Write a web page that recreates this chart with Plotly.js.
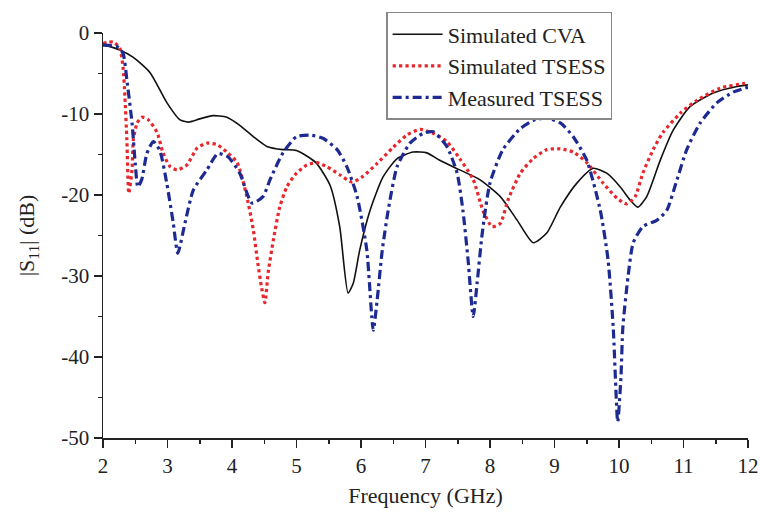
<!DOCTYPE html>
<html>
<head>
<meta charset="utf-8">
<script src="https://cdn.plot.ly/plotly-3.0.1.min.js"></script>
<style>html,body{margin:0;padding:0;background:#fff;}#chart{width:760px;height:515px;}</style>
</head>
<body>
<div id="chart"></div>
<script>
// Frequency (GHz) and |S11| (dB)
const freqCVA = [2, 2.26, 2.47, 2.73, 2.99, 3.19, 3.32, 3.5, 3.7, 3.92, 4.12, 4.33, 4.54, 4.79, 5.0, 5.3, 5.52, 5.67, 5.8, 5.88, 5.98, 6.14, 6.34, 6.56, 6.81, 7.02, 7.22, 7.53, 7.84, 8.16, 8.42, 8.67, 8.88, 9.09, 9.35, 9.6, 9.81, 10.02, 10.17, 10.29, 10.43, 10.64, 10.84, 11.1, 11.46, 11.83, 12];
const s11CVA = [-1.4, -2.1, -3.0, -4.9, -8.6, -10.7, -11.0, -10.6, -10.2, -10.4, -11.4, -12.8, -14.0, -14.4, -14.5, -16.0, -18.8, -23.9, -32.1, -30.9, -26.8, -21.9, -17.8, -15.5, -14.7, -14.8, -15.7, -16.9, -18.1, -20.2, -23.1, -25.9, -24.7, -21.5, -18.5, -16.7, -17.3, -19.0, -20.6, -21.5, -20.2, -15.7, -12.0, -9.1, -7.4, -6.6, -6.4];

const freqSim = [2, 2.16, 2.26, 2.31, 2.34, 2.37, 2.4, 2.45, 2.47, 2.53, 2.6, 2.7, 2.84, 2.93, 3.04, 3.15, 3.3, 3.46, 3.61, 3.77, 3.92, 4.08, 4.23, 4.33, 4.4, 4.46, 4.51, 4.56, 4.64, 4.74, 4.85, 5.0, 5.16, 5.32, 5.47, 5.67, 5.86, 6.03, 6.25, 6.5, 6.71, 6.92, 7.12, 7.33, 7.53, 7.74, 7.89, 8.03, 8.16, 8.28, 8.47, 8.67, 8.88, 9.09, 9.29, 9.5, 9.75, 9.97, 10.12, 10.25, 10.37, 10.53, 10.68, 10.95, 11.21, 11.57, 11.95, 12];
const s11Sim = [-1.3, -1.1, -1.9, -4.2, -7.9, -13.2, -19.8, -16.9, -13.2, -11.1, -10.4, -10.7, -12.3, -14.8, -16.5, -16.9, -16.3, -14.2, -13.6, -13.8, -14.7, -16.0, -20.2, -24.3, -28.4, -31.5, -33.3, -29.6, -25.6, -21.5, -19.0, -17.3, -16.3, -16.0, -16.5, -17.5, -18.4, -17.7, -16.1, -14.1, -12.6, -11.9, -12.4, -13.4, -15.5, -18.1, -21.9, -23.9, -23.5, -20.6, -17.3, -15.5, -14.4, -14.3, -14.7, -16.0, -18.5, -20.4, -21.1, -20.2, -17.3, -14.4, -12.3, -9.9, -8.3, -6.8, -6.2, -6.1];

const freqMeas = [2, 2.22, 2.31, 2.37, 2.45, 2.5, 2.54, 2.6, 2.68, 2.78, 2.88, 2.99, 3.09, 3.16, 3.27, 3.4, 3.61, 3.78, 3.94, 4.12, 4.31, 4.48, 4.59, 4.79, 5.0, 5.21, 5.41, 5.63, 5.78, 5.94, 6.09, 6.19, 6.25, 6.33, 6.43, 6.56, 6.76, 6.96, 7.12, 7.33, 7.49, 7.58, 7.66, 7.74, 7.8, 7.88, 8.0, 8.2, 8.47, 8.67, 8.88, 9.09, 9.29, 9.5, 9.71, 9.83, 9.91, 9.98, 10.03, 10.06, 10.14, 10.22, 10.37, 10.59, 10.74, 10.9, 11.05, 11.26, 11.52, 11.77, 12];
const s11Meas = [-1.5, -1.7, -2.5, -5.8, -11.1, -16.1, -19.0, -18.1, -14.9, -13.4, -14.5, -18.6, -23.5, -27.2, -23.5, -19.4, -16.9, -14.9, -15.3, -17.3, -21.0, -20.2, -18.1, -14.8, -12.8, -12.6, -13.0, -14.4, -16.5, -20.2, -26.8, -36.7, -33.0, -26.8, -21.5, -16.5, -13.6, -12.4, -12.2, -14.0, -17.3, -21.9, -28.0, -35.0, -30.9, -24.7, -18.5, -14.4, -11.8, -10.8, -10.5, -11.1, -12.8, -15.7, -21.9, -28.0, -36.3, -48.0, -42.5, -36.3, -30.1, -25.9, -23.9, -23.1, -21.9, -18.1, -14.4, -11.1, -8.6, -7.3, -6.7];

const seriesNames = ["Simulated CVA", "Simulated TSESS", "Measured TSESS"];
const xTickVals = [2, 3, 4, 5, 6, 7, 8, 9, 10, 11, 12];
const yTickVals = [0, -10, -20, -30, -40, -50];

const serif = "Liberation Serif";

const traces = [
  {x: freqCVA, y: s11CVA, name: seriesNames[0], mode: "lines",
   line: {color: "#111111", width: 1.6, shape: "spline", smoothing: 0.6}},
  {x: freqSim, y: s11Sim, name: seriesNames[1], mode: "lines",
   line: {color: "#e8262b", width: 3.2, dash: "dot", shape: "spline", smoothing: 0.6}},
  {x: freqMeas, y: s11Meas, name: seriesNames[2], mode: "lines",
   line: {color: "#1c2a92", width: 3.2, dash: "9px,4px,3px,4px", shape: "spline", smoothing: 0.6}}
];

const layout = {
  width: 760, height: 515,
  margin: {l: 103, r: 12, t: 33, b: 77},
  paper_bgcolor: "#ffffff", plot_bgcolor: "#ffffff",
  font: {family: serif, color: "#222", size: 20},
  showlegend: true,
  legend: {x: 0.439, y: 1.052, xanchor: "left", yanchor: "top",
           bgcolor: "#ffffff", bordercolor: "#888888", borderwidth: 1.5,
           itemwidth: 50,
           font: {family: serif, size: 22, color: "#222"}, tracegroupgap: 0},
  xaxis: {
    range: [2, 12], tickvals: xTickVals, ticktext: xTickVals.map(String),
    ticks: "outside", ticklen: 8, tickwidth: 1.5, tickcolor: "#222",
    minor: {ticks: "outside", ticklen: 4, tickwidth: 1.5, tickcolor: "#222", dtick: 0.5, showgrid: false},
    showline: true, linecolor: "#222", linewidth: 1.5, mirror: false,
    showgrid: false, zeroline: false,
    tickfont: {family: serif, size: 21, color: "#222"},
    title: {text: "Frequency (GHz)", font: {family: serif, size: 22, color: "#222"}, standoff: 11}
  },
  yaxis: {
    range: [-50, 0], tickvals: yTickVals, ticktext: yTickVals.map(String),
    ticks: "outside", ticklen: 8, tickwidth: 1.5, tickcolor: "#222",
    minor: {ticks: "outside", ticklen: 4, tickwidth: 1.5, tickcolor: "#222", dtick: 5, showgrid: false},
    showline: true, linecolor: "#222", linewidth: 1.5, mirror: false,
    showgrid: false, zeroline: false,
    tickfont: {family: serif, size: 21, color: "#222"},
    title: {text: "|S<sub>11</sub>| (dB)", font: {family: serif, size: 22, color: "#222"}, standoff: 20}
  }
};

Plotly.newPlot("chart", traces, layout, {displayModeBar: false, staticPlot: true});
</script>
</body>
</html>
